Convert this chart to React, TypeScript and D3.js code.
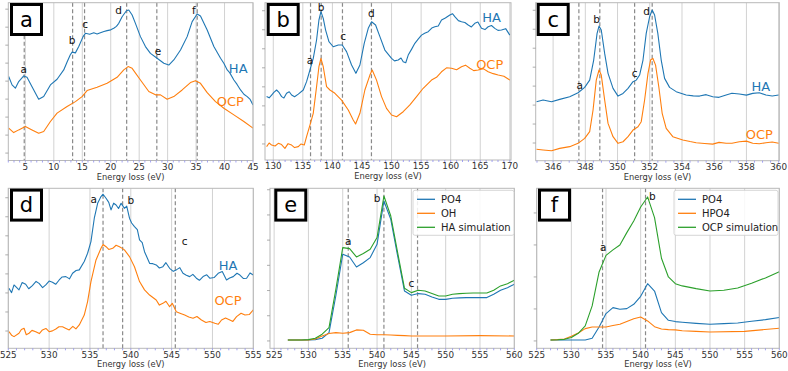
import React from 'react';
import * as d3 from 'd3';

type Pt = [number, number];
type Tag = [string, number, number];

const BLUE = '#1f77b4';
const ORANGE = '#ff7f0e';
const GREEN = '#2ca02c';

// panel a : low loss region (relative intensity, 0-100 of the frame)
const haLowLoss: Pt[] = [
  [2.07, 53.2], [2.66, 47.9], [3.24, 45.8], [3.83, 50], [4.71, 53.6], [5.29, 52.7], [6.17, 46.8],
  [7.34, 38.8], [8.22, 40.5], [9.4, 47.9], [10.57, 51.5], [11.74, 57.4], [12.33, 62.4], [12.9, 67],
  [13.21, 68.7], [13.79, 68.2], [14.38, 72.2], [15.14, 78.5], [15.55, 80.6], [16.3, 80], [17.02, 80.9],
  [17.6, 80.2], [18.19, 81], [18.8, 81.8], [19.36, 82.3], [20.0, 82.8], [20.53, 83.8], [21.0, 85],
  [21.41, 86.9], [22.0, 91.1], [22.76, 94.9], [23.17, 95.4], [23.76, 92.2], [24.34, 86.9], [25.22, 78.5],
  [26.1, 72.2], [26.98, 67.9], [28.15, 64.8], [29.33, 61.6], [30.2, 60.5], [31.08, 63.7], [32.26, 70],
  [33.43, 78.5], [34.31, 88], [35.19, 92.8], [35.77, 91.6], [36.95, 82.7], [38.12, 72.2], [39.3, 64.8],
  [39.9, 61.5], [40.47, 57.4], [40.9, 55.7], [41.64, 51], [42.2, 48.2], [42.81, 44.7], [43.4, 42],
  [43.98, 40.5], [44.5, 38.7], [45, 35.2],
];
const ocpLowLoss: Pt[] = [
  [2.07, 20.5], [2.95, 17.7], [3.83, 19.4], [5.0, 21.5], [6.17, 19.4], [7.34, 17.3], [8.22, 18.4],
  [9.4, 24.7], [10.57, 30], [12.33, 34.2], [13.79, 37.3], [14.96, 40.5], [15.84, 44.3], [17.6, 46.4],
  [19.36, 48.9], [21.12, 52.7], [22.29, 57.4], [23.05, 59.5], [23.76, 58.4], [25.22, 51], [26.69, 43.7],
  [27.86, 41.6], [28.74, 41.6], [29.91, 38.8], [31.08, 40.5], [32.55, 44.7], [34.01, 49.4], [34.89, 50.6],
  [35.77, 48.9], [36.95, 43], [38.41, 37.3], [39.88, 33.1], [41.64, 28.9], [43.39, 24.7], [45, 20.5],
];
const peaksLowLoss = [4.8, 13.3, 15.4, 22.8, 28.1, 35.2];
const lettersLowLoss: Tag[] = [['a', 4.7, 57.8], ['b', 13.2, 76.4], ['c', 15.5, 86.5], ['d', 21.4, 95.4], ['e', 28.3, 69], ['f', 34.6, 95.4]];

// panel b : P L2,3 edge
const haP: Pt[] = [
  [128.87, 40.3], [129.3, 39.5], [129.72, 41.3], [130.1, 43], [130.56, 44.5], [131, 42.8], [131.41, 40.3],
  [131.8, 39.4], [132.25, 42.4], [132.7, 43.4], [133.1, 41.3], [133.6, 40.2], [134.23, 41.9],
  [135.07, 44.5], [135.63, 49.8], [136.2, 57.2], [136.76, 64.6], [137.32, 76.3], [137.72, 89], [138.06, 94.3],
  [138.45, 90], [138.85, 82.6], [139.41, 75.2], [140.14, 72], [140.99, 73.1], [141.66, 73.1], [142.39, 68.9],
  [143.24, 60.4], [143.97, 55.1], [144.65, 60.4], [145.38, 74.2], [146.06, 83.7], [146.62, 87.9], [147.3, 85.8],
  [148.03, 78.4], [148.87, 69.9], [150, 64.6], [150.5, 63], [151.13, 63.6], [151.6, 64.8], [151.97, 62.5],
  [152.4, 61.8], [152.82, 66.7], [153.4, 70.5], [153.94, 74.2], [154.5, 76.8], [155.07, 79.4], [155.6, 80.6],
  [156.2, 81.6], [156.8, 83.9], [157.32, 84.7], [157.9, 85.2], [158.45, 89], [159.1, 90.3], [159.86, 92.2],
  [160.3, 93], [160.7, 91.1], [161.3, 88.6], [161.83, 87.9], [162.4, 87.4], [162.96, 85.8], [163.5, 84.6],
  [164.08, 86.9], [164.6, 87.7], [165.21, 83.7], [165.8, 82.9], [166.34, 84.7], [166.9, 85.5], [167.46, 83.7],
  [168, 82.4], [168.59, 82.6], [169.3, 83.5], [170, 79.4],
];
const ocpP: Pt[] = [
  [128.87, 8.5], [129.3, 10.8], [129.72, 9.5], [130.3, 8.9], [130.85, 10.6], [131.4, 9.8], [131.97, 7.4],
  [132.5, 10.4], [133.1, 9.5], [133.6, 7.9], [134.23, 8.5], [134.7, 10.2], [135.24, 9.5],
  [135.63, 14.8], [136.2, 22.2], [136.76, 29.7], [137.32, 46.6], [137.72, 59.3], [138.06, 64.6], [138.45, 59.3],
  [139.01, 46.6], [139.58, 44.5], [140.42, 42.4], [141.55, 38.1], [142.68, 31.8], [143.52, 25.4], [143.92, 22.9],
  [144.65, 29.7], [145.49, 44.5], [146.34, 54], [146.73, 57.2], [147.46, 50.8], [148.31, 40.3], [149.15, 32.8],
  [150, 28.6], [150.85, 27.5], [151.97, 30.7], [153.1, 35], [154.23, 40.3], [155.35, 45.6], [156.76, 50.8],
  [157.6, 52.6], [158.45, 56.1], [159.3, 58.6], [160.14, 58.3], [161, 57.4], [161.83, 59.3], [162.5, 60.3],
  [163.24, 58.3], [163.9, 56.8], [164.65, 57.2], [165.5, 58.1], [166.34, 56.1], [167.2, 54.9], [168.03, 54],
  [169, 53.2], [170, 50.8],
];
const peaksP = [136.3, 138.1, 141.7, 146.6];
const lettersP: Tag[] = [['a', 136.2, 63.6], ['b', 138.1, 97], ['c', 141.8, 78.4], ['d', 146.6, 93.2]];

// panel c : Ca L2,3 edge
const haCa: Pt[] = [
  [344.97, 37.3], [345.38, 38.4], [345.9, 37.3], [346.41, 38.8], [347.03, 40.5], [347.55, 43], [347.96, 46.4],
  [348.27, 51], [348.52, 63.7], [348.73, 80.6], [348.85, 85.2], [348.99, 82.7], [349.2, 67.9], [349.41, 55.3],
  [349.72, 45.8], [350.03, 40.9], [350.34, 42.6], [350.65, 45.8], [350.96, 50], [351.16, 51], [351.37, 54.2],
  [351.58, 63.7], [351.78, 80.6], [351.99, 91.1], [352.15, 95.4], [352.3, 92.2], [352.5, 80.6], [352.71, 63.7],
  [352.92, 52.1], [353.23, 46.4], [353.64, 43.7], [354.26, 41.6], [354.7, 41], [355.09, 40.9], [355.5, 41.8],
  [355.91, 40.5], [356.3, 40.1], [356.74, 41.6], [357.1, 42.7], [357.56, 42.2], [358, 41.5], [358.39, 42.6],
  [358.8, 43], [359.21, 41.6], [359.6, 41], [360, 41.6],
];
const ocpCa: Pt[] = [
  [344.97, 7.2], [345.38, 6.8], [345.9, 6.3], [346.41, 7.8], [347.03, 8.9], [347.55, 11], [347.96, 14.1],
  [348.27, 18.4], [348.48, 32.1], [348.68, 51], [348.85, 57.4], [348.99, 54.2], [349.2, 38.4], [349.41, 23.6],
  [349.72, 15.2], [350.03, 11], [350.34, 12], [350.65, 15.2], [350.96, 19.4], [351.27, 21.5], [351.47, 24.7],
  [351.68, 38.4], [351.89, 55.3], [352.05, 63.7], [352.19, 64.8], [352.36, 60.5], [352.56, 46.8], [352.77, 30],
  [353.02, 20.5], [353.43, 15.2], [354.05, 13.1], [354.5, 12.1], [354.88, 11.4], [355.4, 10.9], [355.91, 10.5],
  [356.3, 11.6], [356.74, 11], [357.1, 11], [357.56, 12], [358, 12.4], [358.39, 11], [358.8, 10.7],
  [359.21, 11.4], [359.6, 11.8], [360, 11],
];
const peaksCa = [347.6, 348.9, 351.06, 352.15];
const lettersCa: Tag[] = [['a', 347.65, 47.9], ['b', 348.7, 89.5], ['c', 351.06, 55.3], ['d', 351.8, 94.3]];

// panel d : O K edge, measured
const haO: Pt[] = [
  [525.08, 37.5], [525.4, 34.8], [525.7, 39.6], [526.31, 36.5], [526.7, 41.1], [527.13, 40], [527.5, 37.2],
  [527.95, 39.2], [528.4, 41.8], [528.77, 40.6], [529.2, 37.9], [529.59, 39.6], [530, 42], [530.41, 41.3],
  [530.8, 40], [531.23, 42.7], [531.6, 44.6], [532.05, 44.8], [532.5, 43.4], [532.87, 46.9], [533.3, 48.6],
  [533.69, 49], [534.3, 54.2], [534.71, 59.4], [535.12, 66.7], [535.53, 81.3], [535.94, 90.6], [536.35, 94.8],
  [536.6, 96.3], [536.97, 93.8], [537.3, 91.2], [537.58, 86.5], [537.9, 90.7], [538.2, 89.6], [538.5, 87.4],
  [538.81, 90.6], [539.22, 87.5], [539.5, 88.9], [539.84, 81.3], [540.1, 78.3], [540.45, 76], [540.8, 74.1],
  [541.07, 67.7], [541.4, 66], [541.68, 60.4], [542.3, 53.1], [542.7, 52.9], [543.11, 52.1], [543.5, 50.2],
  [543.93, 51], [544.3, 53.5], [544.75, 50], [545.2, 48.1], [545.57, 49], [546, 50.4], [546.39, 46.9],
  [546.8, 45.7], [547.21, 44.8], [547.6, 46.2], [548.03, 43.8], [548.4, 42.5], [548.85, 44.8], [549.3, 45.9],
  [549.67, 43.8], [550.2, 44.2], [550.7, 46.9], [551.2, 48], [551.72, 42.7], [552.1, 43.9], [552.54, 44.8],
  [553, 46.9], [553.36, 45.8], [553.8, 43.6], [554.18, 43.8], [554.6, 47.1], [555, 45.8],
];
const ocpO: Pt[] = [
  [525.08, 10.4], [525.4, 8.2], [525.7, 7.3], [526.31, 9.4], [526.6, 11.8], [526.93, 12.5], [527.2, 8.5],
  [527.54, 9.4], [527.9, 11.2], [528.36, 10.4], [528.8, 9.2], [529.18, 11.5], [529.6, 12.4], [530, 10.4],
  [530.4, 10.9], [530.82, 12.1], [531.2, 13.5], [531.64, 13.5], [532, 12.6], [532.46, 11.5], [532.9, 13.7],
  [533.28, 12.1], [533.69, 14.6], [534.3, 20.8], [534.71, 29.2], [535.12, 41.7], [535.74, 55.2], [536.35, 62.5],
  [536.6, 64.9], [536.97, 63.5], [537.3, 61.8], [537.79, 62.5], [538.2, 64.4], [538.61, 63.5], [538.9, 62.6],
  [539.22, 61.5], [539.84, 57.3], [540.45, 51], [541.07, 41.7], [541.68, 36.5], [542.3, 33.3], [543.11, 30.2],
  [543.5, 27], [543.93, 28.1], [544.3, 29.4], [544.75, 26], [545.08, 28.1], [545.57, 22.9], [546.1, 21.8],
  [546.6, 20.8], [547.1, 19.6], [547.62, 18.8], [548.1, 19.9], [548.65, 17.7], [549.2, 16.1], [549.67, 16.7],
  [550.29, 15.6], [550.7, 15], [551.11, 17.7], [551.6, 18.9], [552.13, 17.7], [552.5, 16.8], [552.95, 19.8],
  [553.5, 21.9], [553.98, 20.8], [554.5, 21.1], [555, 24],
];
const peaksO = [536.6, 539.0, 545.45];
const lettersO: Tag[] = [['a', 535.45, 93.3], ['b', 540, 92.7], ['c', 546.6, 66.7]];

// panel e : O K edge, HA simulation
const po4HA: Pt[] = [
  [527, 5.2], [528, 5.2], [529, 5.2], [530, 5.2], [531, 5.4], [532, 6.3], [533, 9.8], [534, 33], [535, 58.8],
  [536, 57.1], [537, 50.8], [538, 53.5], [539, 56.7], [540, 65], [541, 92.1], [542, 80.6], [543, 57.7],
  [544, 35.8], [545, 33.1], [546, 34.2], [547, 33.8], [548, 32.1], [549, 30.6], [550, 30.6], [551, 31.3],
  [552, 31.5], [553, 31.7], [554, 31.7], [555, 31.7], [556, 31.7], [557, 33.8], [558, 36.3], [559, 37.9], [560, 40],
];
const ohHA: Pt[] = [
  [527, 5.2], [528, 5.2], [529, 5.2], [530, 5.2], [531, 5.8], [532, 7.7], [533, 9.2], [534, 9.8], [535, 9.4],
  [536, 9.8], [537, 11.5], [538, 11.3], [539, 8.8], [540, 8.5], [541, 8.5], [542, 8.3], [543, 8.1], [544, 7.9],
  [545, 7.7], [550, 7.7], [555, 7.9], [560, 7.7],
];
const simHA: Pt[] = [
  [527, 5.2], [528, 5.2], [529, 5.2], [530, 5.4], [531, 6.3], [532, 8.8], [533, 12.9], [534, 37], [535, 62.9],
  [536, 62.3], [537, 57.1], [538, 59.2], [539, 61.9], [540, 69.2], [541, 95.2], [542, 82.7], [543, 59.8],
  [544, 37.5], [545, 34.8], [546, 36.3], [547, 35.8], [548, 34.2], [549, 32.7], [550, 32.7], [551, 33.8],
  [552, 34.2], [553, 34.4], [554, 34.6], [555, 34.6], [556, 34.6], [557, 36.3], [558, 39], [559, 40.4], [560, 42.5],
];
const peaksSimHA = [535.8, 541, 545.9];
const lettersSimHA: Tag[] = [['a', 535.8, 66.7], ['b', 540, 93.8], ['c', 545, 40.6]];

// panel f : O K edge, OCP simulation
const po4OCP: Pt[] = [
  [527, 5.2], [530, 5.2], [532, 5.2], [533, 6.3], [534, 13.3], [535, 21.7], [536, 25.4], [537, 24.4], [538, 24.8],
  [539, 27.5], [540, 32.5], [541, 40.4], [542, 35.8], [543, 22.3], [544, 17.5], [545, 16.7], [546, 16.3],
  [548, 15.6], [550, 15], [552, 15.4], [554, 15.8], [556, 16.9], [558, 17.9], [560, 19.2],
];
const hpo4OCP: Pt[] = [
  [527, 5.2], [528, 5.4], [529, 5.8], [530, 7.5], [531, 9.6], [532, 12.3], [533, 13.3], [534, 13.3], [535, 13.3],
  [536, 14.2], [537, 15], [538, 16.7], [539, 18.5], [540, 19.6], [541, 17.1], [542, 13.5], [543, 12.1],
  [544, 11.7], [545, 11.5], [546, 11], [548, 10.6], [550, 10.2], [555, 10.6], [560, 12.5],
];
const simOCP: Pt[] = [
  [527, 5.2], [528, 5.3], [529, 5.6], [530, 6.7], [531, 9.4], [532, 14], [533, 26.5], [534, 47.7], [535, 58.1],
  [536, 61.5], [537, 64.6], [538, 72.3], [539, 79.6], [540, 88.3], [541, 94.6], [542, 81.7], [543, 56.3],
  [544, 44.6], [545, 40.4], [546, 39], [548, 37.3], [550, 35.8], [552, 36.3], [554, 37.7], [556, 40.6],
  [558, 44], [560, 47.9],
];
const peaksSimOCP = [534.5, 540.7];
const lettersSimOCP: Tag[] = [['a', 534.6, 62.9], ['b', 541.7, 95.2]];

const ticksLowLoss = d3.range(5, 46, 5);
const ticksP = d3.range(125, 171, 5);
const ticksCa = d3.range(346, 361, 2);
const ticksO = d3.range(525, 561, 5);

type Series = { data: Pt[]; color: string; name?: string };
type PanelCfg = {
  id: string;
  x0: number; x1: number; y0: number; y1: number;
  boxDx: number;
  xDomain: [number, number];
  xTicks: number[];
  minorStep: number;
  yTicks: number[];
  series: Series[];
  peaks: number[];
  letters: Tag[];
  tags?: [string, number, number, string][];
  legend?: { x: number; w: number };
};

const panels: PanelCfg[] = [
  {
    id: 'a', x0: 8.3, x1: 253, y0: 2.7, y1: 160.5, boxDx: 1.7,
    xDomain: [2, 45], xTicks: ticksLowLoss, minorStep: 1, yTicks: d3.range(4.7, 100, 11.4),
    series: [{ data: haLowLoss, color: BLUE }, { data: ocpLowLoss, color: ORANGE }],
    peaks: peaksLowLoss, letters: lettersLowLoss,
    tags: [['HA', 42.4, 58.4, BLUE], ['OCP', 41, 37.3, ORANGE]],
  },
  {
    id: 'b', x0: 265, x1: 511, y0: 2.7, y1: 160, boxDx: 1.7,
    xDomain: [128.6, 170.2], xTicks: ticksP, minorStep: 1, yTicks: d3.range(10.2, 100, 12.1),
    series: [{ data: haP, color: BLUE }, { data: ocpP, color: ORANGE }],
    peaks: peaksP, letters: lettersP,
    tags: [['HA', 166.9, 90.7, BLUE], ['OCP', 166.6, 61, ORANGE]],
  },
  {
    id: 'c', x0: 535.7, x1: 779.3, y0: 2.7, y1: 160.7, boxDx: 1,
    xDomain: [344.92, 360.04], xTicks: ticksCa, minorStep: 0.5, yTicks: d3.range(11.2, 100, 12),
    series: [{ data: haCa, color: BLUE }, { data: ocpCa, color: ORANGE }],
    peaks: peaksCa, letters: lettersCa,
    tags: [['HA', 358.9, 47.3, BLUE], ['OCP', 358.8, 16.7, ORANGE]],
  },
  {
    id: 'd', x0: 8.3, x1: 253.3, y0: 188.3, y1: 348.3, boxDx: 1.7,
    xDomain: [525, 555], xTicks: ticksO, minorStep: 1, yTicks: d3.range(10.8, 100, 11.9),
    series: [{ data: haO, color: BLUE }, { data: ocpO, color: ORANGE }],
    peaks: peaksO, letters: lettersO,
    tags: [['HA', 551.9, 51.7, BLUE], ['OCP', 551.9, 30.2, ORANGE]],
  },
  {
    id: 'e', x0: 270, x1: 514.3, y0: 188.3, y1: 348.3, boxDx: 4.3,
    xDomain: [524.4, 560], xTicks: ticksO, minorStep: 1, yTicks: d3.range(4.6, 100, 15.75),
    series: [
      { data: po4HA, color: BLUE, name: 'PO4' },
      { data: ohHA, color: ORANGE, name: 'OH' },
      { data: simHA, color: GREEN, name: 'HA simulation' },
    ],
    peaks: peaksSimHA, letters: lettersSimHA,
    legend: { x: 413, w: 101 },
  },
  {
    id: 'f', x0: 536.7, x1: 779.3, y0: 188.3, y1: 348.3, boxDx: 1.3,
    xDomain: [525, 560], xTicks: ticksO, minorStep: 1, yTicks: d3.range(4.6, 100, 20),
    series: [
      { data: po4OCP, color: BLUE, name: 'PO4' },
      { data: hpo4OCP, color: ORANGE, name: 'HPO4' },
      { data: simOCP, color: GREEN, name: 'OCP simulation' },
    ],
    peaks: peaksSimOCP, letters: lettersSimOCP,
    legend: { x: 674, w: 104 },
  },
];

const FONT = '"DejaVu Sans", sans-serif';

function Panel({ cfg }: { cfg: PanelCfg }) {
  const x = d3.scaleLinear().domain(cfg.xDomain).range([cfg.x0, cfg.x1]);
  const y = d3.scaleLinear().domain([0, 100]).range([cfg.y1, cfg.y0]);
  const line = d3.line<Pt>().x(d => x(d[0])).y(d => y(d[1]));
  const clipId = `clip-${cfg.id}`;
  const inside = (v: number) => v >= cfg.xDomain[0] - 1e-6 && v <= cfg.xDomain[1] + 1e-6;
  const minor = d3.range(Math.ceil(cfg.xDomain[0] / cfg.minorStep) * cfg.minorStep, cfg.xDomain[1] + 1e-6, cfg.minorStep);

  return (
    <g>
      <defs>
        <clipPath id={clipId}>
          <rect x={cfg.x0} y={cfg.y0} width={cfg.x1 - cfg.x0} height={cfg.y1 - cfg.y0} />
        </clipPath>
      </defs>
      {/* vertical grid */}
      {cfg.xTicks.filter(inside).map(t => (
        <line key={'g' + t} x1={x(t)} x2={x(t)} y1={cfg.y0} y2={cfg.y1} stroke="#d2d2d2" strokeWidth={1} />
      ))}
      {/* peak markers */}
      {cfg.peaks.map(p => (
        <line key={'p' + p} x1={x(p)} x2={x(p)} y1={cfg.y0} y2={cfg.y1} stroke="#8a8a8a" strokeWidth={1.2} strokeDasharray="4,2.5" />
      ))}
      <g clipPath={`url(#${clipId})`}>
        {cfg.series.map((s, i) => (
          <path key={i} d={line(d3.sort(s.data, d => d[0])) || ''} fill="none" stroke={s.color} strokeWidth={1.1} strokeLinejoin="round" />
        ))}
      </g>
      {/* frame */}
      <rect x={cfg.x0} y={cfg.y0} width={cfg.x1 - cfg.x0} height={cfg.y1 - cfg.y0} fill="none" stroke="#b8b8b8" strokeWidth={1} />
      {/* y ticks, unlabelled */}
      {cfg.yTicks.map(t => (
        <line key={'y' + t} x1={cfg.x0 - 3} x2={cfg.x0} y1={y(t)} y2={y(t)} stroke="#999" strokeWidth={0.8} />
      ))}
      {/* minor x ticks */}
      {minor.map(t => (
        <line key={'m' + t} x1={x(t)} x2={x(t)} y1={cfg.y1} y2={cfg.y1 + 2} stroke="#8c8cf0" strokeWidth={0.8} />
      ))}
      {cfg.xTicks.filter(inside).map(t => (
        <text key={'t' + t} x={x(t)} y={cfg.y1 + 9.3} textAnchor="middle" fontSize={8.8} fill="#333" fontFamily={FONT}>{t}</text>
      ))}
      <text x={(cfg.x0 + cfg.x1) / 2} y={cfg.y1 + 19} textAnchor="middle" fontSize={8.3} fill="#333" fontFamily={FONT}>Energy loss (eV)</text>
      {/* peak letters */}
      {cfg.letters.map(([s, lx, ly]) => (
        <text key={'l' + s} x={x(lx)} y={y(ly)} dy="0.35em" textAnchor="middle" fontSize={10.5} fill="#111" fontFamily={FONT}>{s}</text>
      ))}
      {cfg.tags && cfg.tags.map(([s, tx, ty, c]) => (
        <text key={'n' + s} x={x(tx)} y={y(ty)} dy="0.35em" textAnchor="middle" fontSize={13} fill={c} fontFamily={FONT}>{s}</text>
      ))}
      {cfg.legend && (
        <g>
          <rect x={cfg.legend.x} y={cfg.y0 + 2} width={cfg.legend.w} height={45} rx={2} fill="white" fillOpacity={0.85} stroke="#cccccc" strokeWidth={0.8} />
          {cfg.series.map((s, i) => (
            <g key={'lg' + i}>
              <line x1={cfg.legend!.x + 4} x2={cfg.legend!.x + 22} y1={cfg.y0 + 11 + i * 14} y2={cfg.y0 + 11 + i * 14} stroke={s.color} strokeWidth={1.3} />
              <text x={cfg.legend!.x + 28} y={cfg.y0 + 11 + i * 14} dy="0.35em" fontSize={10} fill="#222" fontFamily={FONT}>{s.name}</text>
            </g>
          ))}
        </g>
      )}
      {/* panel tag box */}
      <rect x={cfg.x0 + cfg.boxDx + 1.5} y={cfg.y0 + 1.8} width={30} height={30} fill="white" stroke="#000" strokeWidth={3} />
      <text x={cfg.x0 + cfg.boxDx + 16.5} y={cfg.y0 + 16.8} dy="0.35em" textAnchor="middle" fontSize={21} fill="#000" fontFamily={FONT}>{cfg.id}</text>
    </g>
  );
}

export default function App() {
  return (
    <svg width={788} height={371} style={{ position: 'absolute', left: 0, top: 0, background: 'white' }}>
      <rect x={0} y={0} width={788} height={371} fill="white" />
      {panels.map(p => <Panel key={p.id} cfg={p} />)}
    </svg>
  );
}
